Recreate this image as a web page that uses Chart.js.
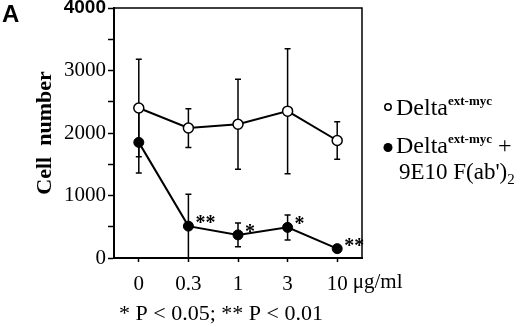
<!DOCTYPE html>
<html>
<head>
<meta charset="utf-8">
<script src="https://cdn.jsdelivr.net/npm/chart.js@4"></script>
<style>
  body { margin: 0; background: #fff; }
  canvas { display: block; }
</style>
</head>
<body>
<canvas id="myChart" width="520" height="327"></canvas>
<script>
// doses (x categories)
const doses = ['0', '0.3', '1', '3', '10'];
const doseUnit = 'μg/ml';
// Delta ext-myc (open circles)
const openMeans = [2400, 2080, 2140, 2350, 1880];
const openErr = [780, 310, 720, 1000, 300];
// Delta ext-myc + 9E10 F(ab')2 (filled circles)
const filledMeans = [1850, 510, 370, 490, 150];
const filledErr = [490, 510, 190, 200, 0];
const filledSig = ['', '**', '*', '*', '**'];
// y axis
const yMax = 4000;
const yStep = 500;
const yLabelStep = 1000;

const serif = 'Liberation Serif, Times New Roman, serif';
const sans = 'Liberation Sans, Arial, sans-serif';
const xTickLen = 4;
const xTickPad = 10;

// error bars behind the points
const errorBars = {
  id: 'errorBars',
  beforeDatasetsDraw(chart) {
    const ctx = chart.ctx;
    const x = chart.scales.x, y = chart.scales.y;
    const errs = [openErr, filledErr];
    ctx.save();
    ctx.strokeStyle = '#000';
    ctx.lineWidth = 1.5;
    chart.data.datasets.forEach((ds, i) => {
      ds.data.forEach((v, j) => {
        const e = errs[i][j];
        if (!e) return;
        const px = x.getPixelForValue(j);
        const top = y.getPixelForValue(v + e);
        const bot = y.getPixelForValue(Math.max(v - e, 0));
        ctx.beginPath();
        ctx.moveTo(px, top); ctx.lineTo(px, bot);
        ctx.moveTo(px - 3, top); ctx.lineTo(px + 3, top);
        if (v - e > 0) { ctx.moveTo(px - 3, bot); ctx.lineTo(px + 3, bot); }
        ctx.stroke();
      });
    });
    ctx.restore();
  }
};

// frame, panel letter, stars, unit, legend and footnote
const extras = {
  id: 'extras',
  afterDraw(chart) {
    const ctx = chart.ctx;
    const a = chart.chartArea;
    const x = chart.scales.x, y = chart.scales.y;
    ctx.save();
    ctx.strokeStyle = '#000';
    ctx.lineWidth = 1.5;
    ctx.beginPath();
    ctx.moveTo(a.left, a.top); ctx.lineTo(a.right, a.top); ctx.lineTo(a.right, a.bottom);
    ctx.stroke();

    ctx.fillStyle = '#000';
    ctx.textBaseline = 'alphabetic';
    ctx.textAlign = 'left';
    ctx.font = 'bold 24px ' + sans;
    ctx.fillText('A', 2, 22);

    // significance stars
    ctx.font = 'bold 20px ' + serif;
    filledSig.forEach((s, j) => {
      if (!s) return;
      const px = x.getPixelForValue(j);
      const py = y.getPixelForValue(filledMeans[j]);
      ctx.fillText(s, px + 7, py + 3);
    });

    // footnote
    ctx.font = '22px ' + serif;
    ctx.fillText('* P < 0.05; ** P < 0.01', 119, 320);

    // legend
    ctx.lineWidth = 1.5;
    ctx.beginPath();
    ctx.arc(388, 107, 3.2, 0, Math.PI * 2);
    ctx.stroke();
    ctx.beginPath();
    ctx.arc(388, 147.5, 4.5, 0, Math.PI * 2);
    ctx.fill();
    const rows = [[396, 115, ''], [396, 153, ' +']];
    rows.forEach(([lx, ly, tail]) => {
      ctx.font = '24px ' + serif;
      ctx.fillText('Delta', lx, ly);
      const w = ctx.measureText('Delta').width;
      ctx.font = 'bold 13px ' + serif;
      ctx.fillText('ext-myc', lx + w, ly - 10);
      const w2 = ctx.measureText('ext-myc').width;
      ctx.font = '24px ' + serif;
      ctx.fillText(tail, lx + w + w2, ly);
    });
    ctx.font = '23px ' + serif;
    ctx.fillText("9E10 F(ab')", 399, 179);
    const w3 = ctx.measureText("9E10 F(ab')").width;
    ctx.font = '15px ' + serif;
    ctx.fillText('2', 399 + w3, 184);

    // unit after the last dose label, same line as the tick labels
    ctx.font = '21px ' + serif;
    ctx.textBaseline = 'top';
    const lastX = x.getPixelForValue(doses.length - 1);
    ctx.fillText(doseUnit, lastX + ctx.measureText(doses[doses.length - 1]).width / 2 + 5, x.top + xTickLen + xTickPad);
    ctx.restore();
  }
};

new Chart(document.getElementById('myChart').getContext('2d'), {
  type: 'line',
  data: {
    labels: doses,
    datasets: [{
      label: 'Delta ext-myc',
      data: openMeans,
      borderColor: '#000',
      borderWidth: 2,
      pointRadius: 5,
      pointBorderWidth: 1.5,
      pointBackgroundColor: '#fff',
      pointBorderColor: '#000',
      tension: 0
    }, {
      label: "Delta ext-myc + 9E10 F(ab')2",
      data: filledMeans,
      borderColor: '#000',
      borderWidth: 2,
      pointRadius: 5,
      pointBorderWidth: 1,
      pointBackgroundColor: '#000',
      pointBorderColor: '#000',
      tension: 0
    }]
  },
  options: {
    responsive: false,
    animation: false,
    layout: { padding: { left: 32, top: 8, right: 158, bottom: 0 } },
    plugins: { legend: { display: false }, tooltip: { enabled: false } },
    scales: {
      x: {
        offset: true,
        grid: { offset: false, drawOnChartArea: false, tickLength: xTickLen, tickWidth: 1.5, tickColor: '#000' },
        border: { color: '#000', width: 2 },
        ticks: { color: '#000', padding: xTickPad, maxRotation: 0, font: { family: serif, size: 21 } },
        afterFit: (s) => { s.height = 69; s.paddingLeft = 0; s.paddingRight = 0; }
      },
      y: {
        min: 0,
        max: yMax,
        grid: { drawOnChartArea: false, tickLength: 6, tickWidth: 1.5, tickColor: '#000' },
        border: { color: '#000', width: 2 },
        ticks: {
          stepSize: yStep,
          color: '#000',
          padding: 2,
          callback: (v) => (v % yLabelStep === 0 ? String(v) : ''),
          font: (c) => (c.tick && c.tick.value === yMax
            ? { family: sans, size: 19, weight: 'bold' }
            : { family: serif, size: 21 })
        },
        title: {
          display: true,
          text: 'Cell  number',
          color: '#000',
          padding: { top: 0, bottom: 0 },
          font: { family: serif, size: 22, weight: 'bold' }
        },
        afterFit: (s) => { s.width = 82; s.paddingTop = 0; s.paddingBottom = 0; }
      }
    }
  },
  plugins: [errorBars, extras]
});
</script>
</body>
</html>
